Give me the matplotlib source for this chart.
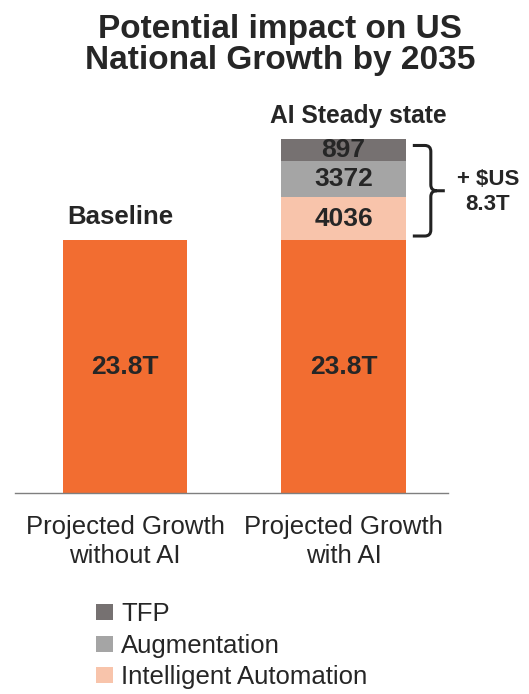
import matplotlib.pyplot as plt
from matplotlib.patches import Patch, PathPatch
from matplotlib.path import Path
from matplotlib.transforms import IdentityTransform

plt.rcParams['font.family'] = ['Liberation Sans', 'DejaVu Sans']

# data (billions of US$)
categories = ['Projected Growth\nwithout AI', 'Projected Growth\nwith AI']
baseline = [23800, 23800]
base_labels = ['23.8T', '23.8T']
ai_parts = ['Intelligent Automation', 'Augmentation', 'TFP']
ai_values = [4036, 3372, 897]
total_label = '+ $US\n8.3T'

orange = '#F26D31'
part_colors = ['#F8C4AB', '#A5A5A5', '#767171']
txt = '#262626'

# smallest drawn segment so its label fits
min_seg = 2050

fig = plt.figure(figsize=(5.29, 6.94), dpi=100)
ax = fig.add_axes([15 / 529, 201 / 694, 433 / 529, 393.3 / 694])

x = [0, 1]
w = 0.57
ax.bar(x, baseline, width=w, color=orange, linewidth=0)
for i in x:
    ax.text(i, baseline[i] / 2, base_labels[i], ha='center', va='center',
            fontsize=19, fontweight='bold', color=txt)

bottom = baseline[1]
for val, col in zip(ai_values, part_colors):
    h = max(val, min_seg)
    ax.bar(1, h, bottom=bottom, width=w, color=col, linewidth=0)
    ax.text(1, bottom + h / 2, f'{val}', ha='center', va='center',
            fontsize=19, fontweight='bold', color=txt)
    bottom += h
top = bottom

ax.annotate('Baseline', xy=(0, baseline[0]), xytext=(-3.5, 11.5),
            textcoords='offset points', ha='center', va='baseline',
            fontsize=18.5, fontweight='bold', color=txt)
ax.annotate('AI Steady state', xy=(1, top), xytext=(11, 12.2),
            textcoords='offset points', ha='center', va='baseline',
            fontsize=17.7, fontweight='bold', color=txt)

ax.set_xlim(-0.503, 1.478)
ax.set_ylim(0, 37000)
ax.set_xticks(x)
ax.set_xticklabels(categories, fontsize=18.5, color=txt, linespacing=1.24)
ax.tick_params(axis='x', length=0, pad=16)
ax.set_yticks([])
for s in ['top', 'right', 'left']:
    ax.spines[s].set_visible(False)
ax.spines['bottom'].set_color('#7F7F7F')
ax.spines['bottom'].set_linewidth(1.0)

# curly bracket beside the AI stack, in pixels
fig.canvas.draw()
xr, yt = ax.transData.transform((1 + w / 2, top))
_, yb = ax.transData.transform((1 + w / 2, baseline[1]))
yt -= 6
yb += 4
ym = (yt + yb) / 2
x0, xv, xt, r = xr + 7, xr + 25, xr + 39, 6
verts = [(x0, yt), (xv - r, yt), (xv, yt), (xv, yt - r), (xv, ym + r), (xv, ym), (xv + r, ym), (xt, ym),
         (xv + r, ym), (xv, ym), (xv, ym - r), (xv, yb + r), (xv, yb), (xv - r, yb), (x0, yb)]
codes = [Path.MOVETO, Path.LINETO, Path.CURVE3, Path.CURVE3, Path.LINETO, Path.CURVE3, Path.CURVE3, Path.LINETO,
         Path.MOVETO, Path.CURVE3, Path.CURVE3, Path.LINETO, Path.CURVE3, Path.CURVE3, Path.LINETO]
brace = PathPatch(Path(verts, codes), transform=IdentityTransform(), facecolor='none',
                  edgecolor='#222222', linewidth=2.2, capstyle='butt', joinstyle='round')
fig.add_artist(brace)
fig.text(488 / 529, 1 - 192 / 694, total_label, ha='center', va='center',
         fontsize=16, fontweight='bold', color=txt, linespacing=1.3)

fig.text(280 / 529, 1 - 14 / 694, 'Potential impact on US\nNational Growth by 2035',
         ha='center', va='top', fontsize=24, fontweight='bold', color=txt, linespacing=1.0)

handles = [Patch(facecolor=c, linewidth=0) for c in part_colors[::-1]]
fig.legend(handles, ai_parts[::-1], loc='upper left', bbox_to_anchor=(96 / 529, 1 - 602 / 694),
           frameon=False, fontsize=18.5, handlelength=0.66, handleheight=0.58,
           handletextpad=0.31, labelspacing=0.3, borderpad=0, borderaxespad=0,
           labelcolor=txt)

fig.savefig('out.png', dpi=100)
